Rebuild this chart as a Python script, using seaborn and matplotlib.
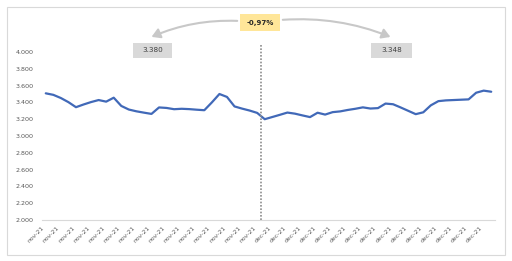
import numpy as np
import pandas as pd
import matplotlib
matplotlib.use("Agg")
import matplotlib.pyplot as plt
import seaborn as sns
from matplotlib.patches import Rectangle, FancyArrowPatch

# ---- data ----
months = ["nov-21"] * 30 + ["dec-21"] * 30
values = [3508, 3490, 3452, 3403, 3343, 3375, 3404, 3428, 3409, 3456,
          3358, 3315, 3294, 3278, 3263, 3340, 3334, 3319, 3324, 3320,
          3313, 3307, 3400, 3500, 3465, 3352, 3326, 3303, 3275, 3200,
          3226, 3252, 3279, 3266, 3245, 3225, 3277, 3255, 3284, 3293,
          3310, 3324, 3341, 3327, 3332, 3386, 3378, 3340, 3300, 3260,
          3282, 3365, 3415, 3424, 3428, 3432, 3436, 3515, 3540, 3527]
y_ticks = [2000, 2200, 2400, 2600, 2800, 3000, 3200, 3400, 3600, 3800, 4000]
left_avg_label = "3.380"
right_avg_label = "3.348"
change_label = "-0,97%"
divider_pos = 28.5

sns.set_style("white")
plt.rcParams['font.family'] = ['DejaVu Sans']

W, H = 512, 261
fig = plt.figure(figsize=(W / 100, H / 100), dpi=100)
fig.patch.set_facecolor("white")


def fx(px):
    return px / W


def fy(py):
    return 1 - py / H


ax = fig.add_axes([fx(42), fy(220), fx(495) - fx(42), fy(52) - fy(220)])
df = pd.DataFrame({"idx": np.arange(len(values)), "value": values, "month": months})
sns.lineplot(data=df, x="idx", y="value", ax=ax, color="#4169B8", linewidth=1.6)

ax.set_xlim(-0.5, len(values) - 0.5)
ax.set_ylim(y_ticks[0], y_ticks[-1])
ax.set_yticks(y_ticks)
ax.set_yticklabels([f"{v:,}".replace(",", ".") for v in y_ticks])
ax.tick_params(axis="y", length=0, pad=6, labelsize=4.6, labelcolor="#595959")

tick_idx = np.arange(0, len(values), 2)
ax.set_xticks(list(tick_idx - 0.5) + [len(values) - 0.5])
ax.set_xticklabels([months[i] for i in tick_idx] + [""])
ax.tick_params(axis="x", length=3, width=0.6, color="#D9D9D9", pad=1,
               labelsize=4.4, labelcolor="#595959")
for lab in ax.get_xticklabels():
    lab.set_rotation(45)
    lab.set_ha("right")
    lab.set_va("top")
    lab.set_rotation_mode("anchor")

ax.set_xlabel("")
ax.set_ylabel("")
for s in ["left", "top", "right"]:
    ax.spines[s].set_visible(False)
ax.spines["bottom"].set_color("#D9D9D9")
ax.spines["bottom"].set_linewidth(0.8)

# divider
ax.vlines(divider_pos, y_ticks[0], 4085, colors="#8C8C8C", linestyles=(0, (1, 1)),
          linewidth=1.2, clip_on=False)

# outer border
fig.add_artist(Rectangle((fx(7), fy(255)), fx(505) - fx(7), fy(7) - fy(255),
                         transform=fig.transFigure, fill=False,
                         edgecolor="#D9D9D9", lw=0.8))

# boxes
def box(cx, cy, w, h, fc, text, color, weight="normal", size=5):
    fig.add_artist(Rectangle((fx(cx - w / 2), fy(cy + h / 2)), w / W, h / H,
                             transform=fig.transFigure, facecolor=fc,
                             edgecolor="none", zorder=3))
    fig.text(fx(cx), fy(cy), text, ha="center", va="center", color=color,
             fontsize=size, fontweight=weight, zorder=4)


box(260, 22.5, 40, 17, "#FFE699", change_label, "#262626", "bold", 5)
box(152.5, 50.5, 39, 15, "#D9D9D9", left_avg_label, "#404040", "normal", 5.2)
box(391.5, 50.5, 41, 15, "#D9D9D9", right_avg_label, "#404040", "normal", 5.2)

# arrows
for (x0, y0), (x1, y1), rad in [((240, 21), (149, 38), 0.12),
                                ((280, 20), (393, 38), -0.12)]:
    arr = FancyArrowPatch((fx(x0), fy(y0)), (fx(x1), fy(y1)),
                          transform=fig.transFigure,
                          connectionstyle=f"arc3,rad={rad}",
                          arrowstyle="-|>,head_length=5,head_width=3",
                          color="#C8C8C8", lw=1.5, zorder=2)
    fig.add_artist(arr)

fig.savefig("out.png", dpi=100, facecolor="white")
